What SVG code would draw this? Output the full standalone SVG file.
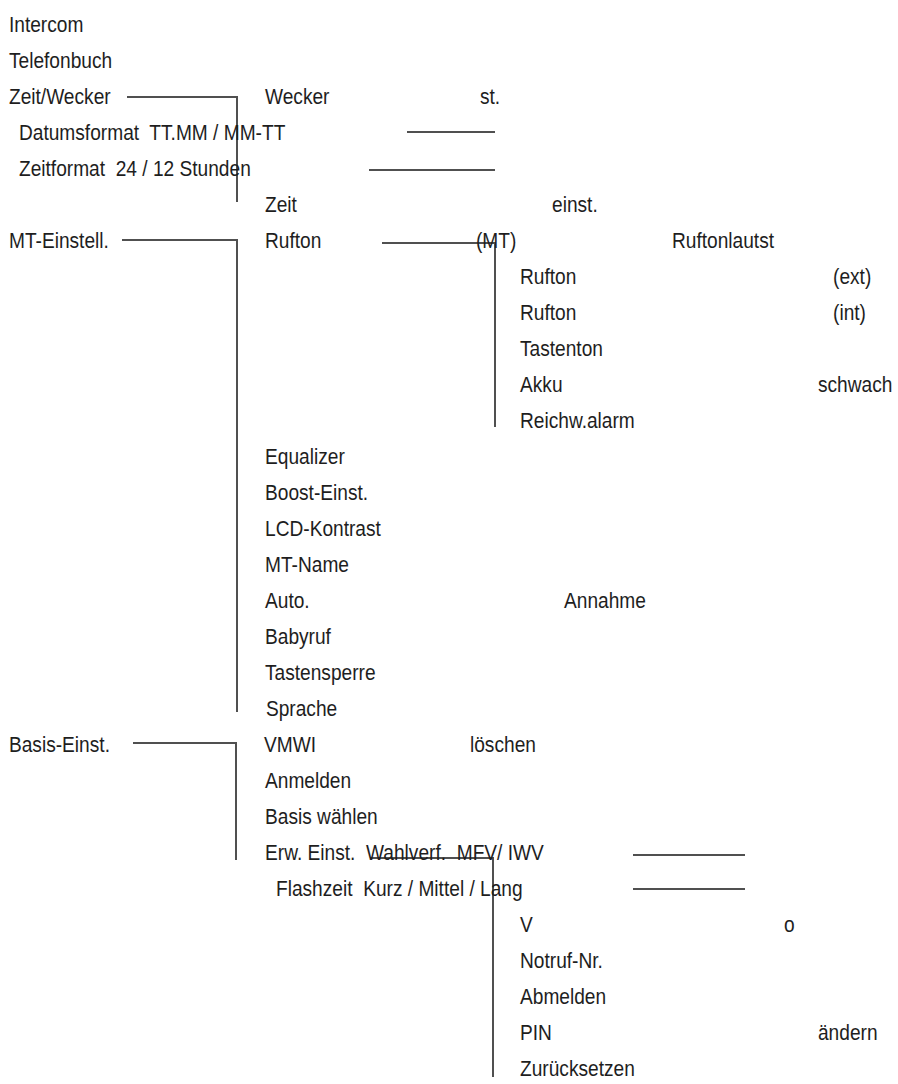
<svg xmlns="http://www.w3.org/2000/svg" width="898" height="1084" viewBox="0 0 898 1084">
<style>
text{font-family:"Liberation Sans",Arial,sans-serif;font-size:22px;fill:#1e1e1e;white-space:pre}
.c{fill:none;stroke:#505050;stroke-width:2}
</style>
<rect width="898" height="1084" fill="#fff"/>
<g id="connectors">
<path class="c" d="M127 97H237V202"/>
<path class="c" d="M407 132H495"/>
<path class="c" d="M369 170H495"/>
<path class="c" d="M122 240H237V712"/>
<path class="c" d="M382 243H495V427"/>
<path class="c" d="M133 743H236V860"/>
<path class="c" d="M370 858H493V1077"/>
<path class="c" d="M633 855H745"/>
<path class="c" d="M633 889H745"/>
</g>
<g transform="scale(0.87,1)" xml:space="preserve">
<g id="n-intercom"><text x="10.3" y="32">Intercom</text></g>
<g id="n-telefonbuch"><text x="10.3" y="68">Telefonbuch</text></g>
<g id="n-zeitwecker"><text x="10.3" y="104">Zeit/Wecker</text></g>
<g id="n-wecker"><text x="304.6" y="104">Wecker</text><text x="551.7" y="104">st.</text></g>
<g id="n-datumsformat"><text x="21.8" y="140">Datumsformat  TT.MM / MM-TT</text></g>
<g id="n-zeitformat"><text x="21.8" y="176">Zeitformat  24 / 12 Stunden</text></g>
<g id="n-zeit"><text x="304.6" y="212">Zeit</text><text x="634.5" y="212">einst.</text></g>
<g id="n-mteinstell"><text x="10.3" y="248">MT-Einstell.</text></g>
<g id="n-rufton"><text x="304.6" y="248">Rufton</text><text x="547.1" y="248">(MT)</text><text x="772.4" y="248">Ruftonlautst</text></g>
<g id="n-rufton-ext"><text x="597.7" y="284">Rufton</text><text x="957.5" y="284">(ext)</text></g>
<g id="n-rufton-int"><text x="597.7" y="320">Rufton</text><text x="957.5" y="320">(int)</text></g>
<g id="n-tastenton"><text x="597.7" y="356">Tastenton</text></g>
<g id="n-akku"><text x="597.7" y="392">Akku</text><text x="940.2" y="392">schwach</text></g>
<g id="n-reichw"><text x="597.7" y="428">Reichw.alarm</text></g>
<g id="n-equalizer"><text x="304.6" y="464">Equalizer</text></g>
<g id="n-boost"><text x="304.6" y="500">Boost-Einst.</text></g>
<g id="n-lcd"><text x="304.6" y="536">LCD-Kontrast</text></g>
<g id="n-mtname"><text x="304.6" y="572">MT-Name</text></g>
<g id="n-auto"><text x="304.6" y="608">Auto.</text><text x="648.3" y="608">Annahme</text></g>
<g id="n-babyruf"><text x="304.6" y="644">Babyruf</text></g>
<g id="n-tastensperre"><text x="304.6" y="680">Tastensperre</text></g>
<g id="n-sprache"><text x="305.7" y="716">Sprache</text></g>
<g id="n-basiseinst"><text x="10.3" y="752">Basis-Einst.</text></g>
<g id="n-vmwi"><text x="303.4" y="752">VMWI</text><text x="540.2" y="752">löschen</text></g>
<g id="n-anmelden"><text x="304.6" y="788">Anmelden</text></g>
<g id="n-basiswaehlen"><text x="304.6" y="824">Basis wählen</text></g>
<g id="n-erw"><text x="304.6" y="860">Erw. Einst.  Wahlverf.  MFV/ IWV</text></g>
<g id="n-flashzeit"><text x="317.2" y="896">Flashzeit  Kurz / Mittel / Lang</text></g>
<g id="n-v"><text x="597.7" y="932">V</text><text x="901.1" y="932">o</text></g>
<g id="n-notruf"><text x="597.7" y="968">Notruf-Nr.</text></g>
<g id="n-abmelden"><text x="597.7" y="1004">Abmelden</text></g>
<g id="n-pin"><text x="597.7" y="1040">PIN</text><text x="940.2" y="1040">ändern</text></g>
<g id="n-zuruecksetzen"><text x="597.7" y="1076">Zurücksetzen</text></g>
</g>
</svg>
